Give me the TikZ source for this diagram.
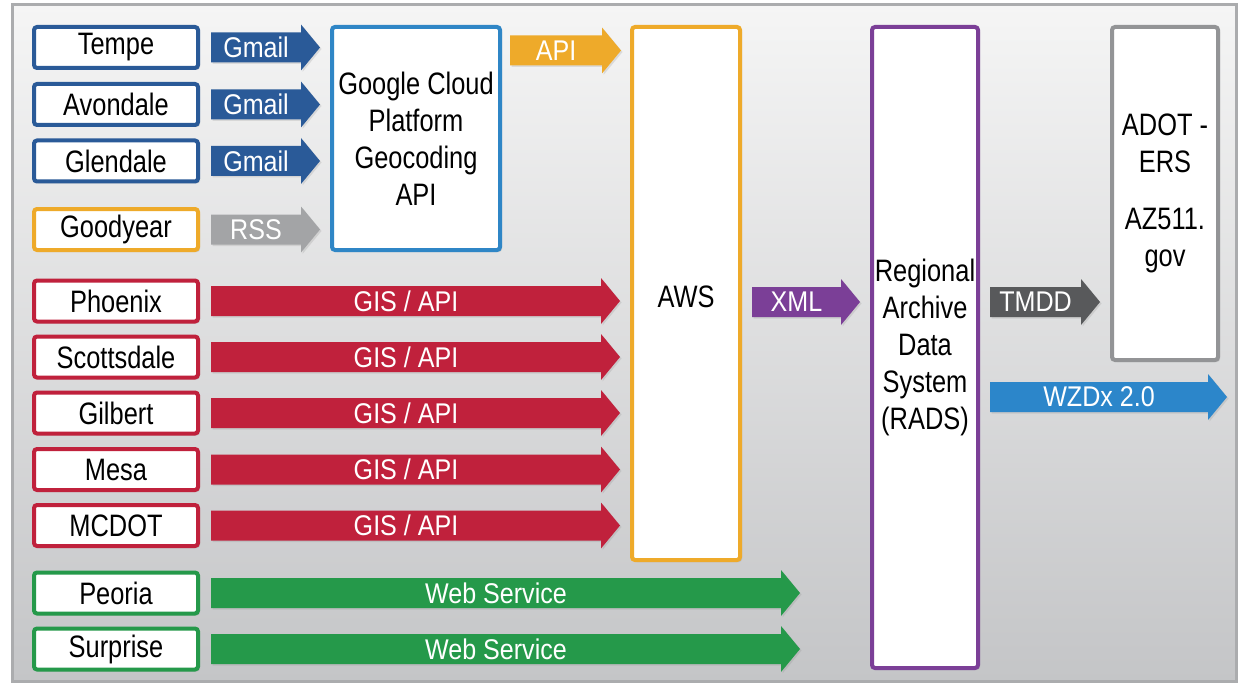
\documentclass[tikz,border=0pt]{standalone}
\usepackage{fontspec}
\setmainfont[FakeStretch=0.82]{Liberation Sans}
\newfontfamily\lblfont[FakeStretch=0.88]{Liberation Sans}
\usetikzlibrary{calc,shadows}
\definecolor{dblue}{HTML}{2A5A98}
\definecolor{gblue}{HTML}{2F86C6}
\definecolor{orng}{HTML}{EEAA2A}
\definecolor{rred}{HTML}{C0213C}
\definecolor{ggreen}{HTML}{25994A}
\definecolor{purp}{HTML}{7B3F97}
\definecolor{dgray}{HTML}{58595B}
\definecolor{lgray}{HTML}{A3A4A6}
\definecolor{wblue}{HTML}{2C86CA}
\definecolor{bgray}{HTML}{939496}
\definecolor{framegray}{HTML}{ABACAE}
\definecolor{bgtop}{HTML}{F5F5F5}
\definecolor{bgbot}{HTML}{C4C5C7}
\newcommand\blockarr[4]{%
  \fill[#1, drop shadow={shadow xshift=1.5pt,shadow yshift=-1.5pt,opacity=0.2}]
    let \p1=(#2), \p2=(#3) in
    (\x1,\y1+15pt) -- (\x2-19pt,\y1+15pt) -- (\x2-19pt,\y1+23pt) -- (\x2,\y1)
    -- (\x2-19pt,\y1-23pt) -- (\x2-19pt,\y1-15pt) -- (\x1,\y1-15pt) -- cycle
    node[arrlabel] at ({(\x1+\x2-19pt)/2},\y1) {#4};
}
\tikzset{
  box/.style={draw, line width=4pt, fill=white, rounded corners=3pt, inner sep=0pt,
    align=center, text=black, font=\fontsize{31}{37}\selectfont,
    drop shadow={shadow xshift=2pt,shadow yshift=-2pt,opacity=0.22}},
  src/.style={box, minimum width=164pt, minimum height=41pt},
  arrlabel/.style={text=white, font=\lblfont\fontsize{28.5}{34}\selectfont, inner sep=0pt},
}
\begin{document}
\begin{tikzpicture}[x=1pt,y=-1pt]
\useasboundingbox (0,0) rectangle (1241,687);
\shade[top color=bgtop, bottom color=bgbot] (12,5) rectangle (1236,681);
\draw[framegray, line width=3pt] (12,5) rectangle (1236,681);

% source boxes
\node[src, draw=dblue] (tempe) at (116,47.5) {Tempe};
\node[src, draw=dblue] (avondale) at (116,104.5) {Avondale};
\node[src, draw=dblue] (glendale) at (116,161) {Glendale};
\node[src, draw=orng] (goodyear) at (116,229.5) {Goodyear};
\node[src, draw=rred] (phoenix) at (116,301) {Phoenix};
\node[src, draw=rred] (scottsdale) at (116,357) {Scottsdale};
\node[src, draw=rred] (gilbert) at (116,413) {Gilbert};
\node[src, draw=rred] (mesa) at (116,469.5) {Mesa};
\node[src, draw=rred] (mcdot) at (116,525.5) {MCDOT};
\node[src, draw=ggreen] (peoria) at (116,593) {Peoria};
\node[src, draw=ggreen] (surprise) at (116,649) {Surprise};

% main boxes
\node[box, draw=gblue, minimum width=168pt, minimum height=223pt] (gcp) at (416,138.5)
  {Google Cloud\\Platform\\Geocoding\\API};
\node[box, draw=orng, minimum width=108pt, minimum height=533pt] (aws) at (686,293.5) {};
\node[font=\fontsize{31}{37}\selectfont, inner sep=0pt] (awslbl)
  at ($(aws.center|-phoenix.center)+(0,-4)$) {AWS};
\node[box, draw=purp, minimum width=106pt, minimum height=641pt] (rads) at (925,347.5)
  {Regional\\Archive\\Data\\System\\(RADS)};
\node[box, draw=bgray, minimum width=106pt, minimum height=333pt] (adot) at (1165,193.5)
  {\fontsize{31}{35}\selectfont ADOT -\\ERS\\[20pt]AZ511.\\gov};

% free ends
\coordinate (ws1) at (800,593);
\coordinate (ws2) at (800,649);
\coordinate (wzend) at (1227,397);

% arrows
\blockarr{dblue}{$(tempe.east)+(11,0)$}{$(gcp.west)+(-10,0)$}{Gmail}
\blockarr{dblue}{$(avondale.east)+(11,0)$}{$(gcp.west)+(-10,0)$}{Gmail}
\blockarr{dblue}{$(glendale.east)+(11,0)$}{$(gcp.west)+(-10,0)$}{Gmail}
\blockarr{lgray}{$(goodyear.east)+(11,0)$}{$(gcp.west)+(-10,0)$}{RSS}
\blockarr{orng}{$(gcp.east|-tempe.east)+(8,3)$}{$(aws.west)+(-9,0)$}{API}
\blockarr{rred}{$(phoenix.east)+(11,0)$}{$(aws.west)+(-10,0)$}{GIS / API}
\blockarr{rred}{$(scottsdale.east)+(11,0)$}{$(aws.west)+(-10,0)$}{GIS / API}
\blockarr{rred}{$(gilbert.east)+(11,0)$}{$(aws.west)+(-10,0)$}{GIS / API}
\blockarr{rred}{$(mesa.east)+(11,0)$}{$(aws.west)+(-10,0)$}{GIS / API}
\blockarr{rred}{$(mcdot.east)+(11,0)$}{$(aws.west)+(-10,0)$}{GIS / API}
\blockarr{ggreen}{$(peoria.east)+(11,0)$}{ws1}{Web Service}
\blockarr{ggreen}{$(surprise.east)+(11,0)$}{ws2}{Web Service}
\blockarr{purp}{$(aws.east|-phoenix.east)+(10,1)$}{$(rads.west)+(-10,0)$}{XML}
\blockarr{dgray}{$(rads.east|-phoenix.east)+(10,1)$}{$(adot.west)+(-10,0)$}{TMDD}
\blockarr{wblue}{$(rads.east|-wzend)+(10,0)$}{wzend}{WZDx 2.0}
\end{tikzpicture}
\end{document}
